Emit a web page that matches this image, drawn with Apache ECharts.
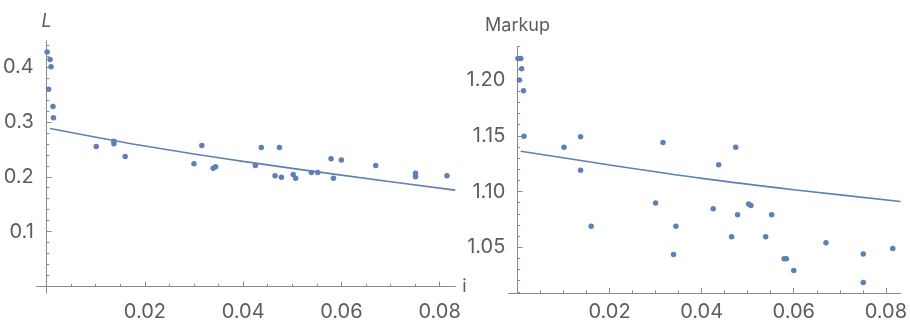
<!DOCTYPE html>
<html>
<head>
<meta charset="utf-8">
<script src="https://cdn.jsdelivr.net/npm/echarts@6/dist/echarts.min.js"></script>
<style>
  html, body { margin: 0; padding: 0; background: #ffffff; }
  #chart { width: 910px; height: 322px; }
</style>
</head>
<body>
<div id="chart"></div>
<script>
// Interest rate i for each observation (shared by both panels)
const rate = [0.0001, 0.0004, 0.0007, 0.0009, 0.0013, 0.0014, 0.0101, 0.0137, 0.0137, 0.0160,
              0.0300, 0.0316, 0.0339, 0.0344, 0.0425, 0.0437, 0.0465, 0.0474, 0.0478, 0.0502,
              0.0507, 0.0539, 0.0552, 0.0579, 0.0584, 0.0600, 0.0670, 0.0751, 0.0751, 0.0815];
// Left panel: L
const laborShare = [0.427, 0.3595, 0.4135, 0.4005, 0.328, 0.3077, 0.2553, 0.2646, 0.2600, 0.2367,
                    0.2239, 0.2571, 0.2157, 0.2181, 0.2204, 0.2531, 0.2017, 0.2531, 0.1990, 0.2042,
                    0.1972, 0.2077, 0.2077, 0.2326, 0.1972, 0.2304, 0.2204, 0.2065, 0.2000, 0.2017];
// Right panel: Markup
const markup = [1.2194, 1.2000, 1.2194, 1.2102, 1.1905, 1.1497, 1.1398, 1.1491, 1.1190, 1.0688,
                1.0896, 1.1440, 1.0434, 1.0688, 1.0845, 1.1241, 1.0595, 1.1398, 1.0791, 1.0887,
                1.0875, 1.0595, 1.0791, 1.0396, 1.0396, 1.0291, 1.0541, 1.0438, 1.0184, 1.0488];
// Fitted curves, read at a few rates
const fitRate = [0.0007, 0.02, 0.04, 0.06, 0.0832];
const fitL = [0.288, 0.256, 0.228, 0.203, 0.1756];
const fitMarkup = [1.1362, 1.1238, 1.1118, 1.1016, 1.0911];

// Tick labels and minor tick positions
const rateTicks = [0.02, 0.04, 0.06, 0.08];
const rateMinor = [0.005, 0.01, 0.015, 0.025, 0.03, 0.035, 0.045, 0.05, 0.055, 0.065, 0.07, 0.075];
const lTicks = [0.1, 0.2, 0.3, 0.4];
const lMinor = [0.02, 0.04, 0.06, 0.08, 0.12, 0.14, 0.16, 0.18, 0.22, 0.24, 0.26, 0.28,
                0.32, 0.34, 0.36, 0.38, 0.42, 0.44];
const markupTicks = [1.05, 1.10, 1.15, 1.20];
const markupMinor = [1.01, 1.02, 1.03, 1.04, 1.06, 1.07, 1.08, 1.09, 1.11, 1.12, 1.13, 1.14,
                     1.16, 1.17, 1.18, 1.19, 1.21, 1.22, 1.23];

const BLUE = '#5E81B5';
const AXIS = '#8a8a8a';
const TEXT = '#5c5c5c';
const FONT = 'Inter, Liberation Sans, Arial, sans-serif';

const pairs = (xs, ys) => xs.map((x, k) => [x, ys[k]]);

function mainAxis(dim, grid, min, max, ticks, fmt, extra) {
  return Object.assign({
    type: 'value', gridIndex: grid, min: min, max: max,
    position: dim === 'x' ? 'bottom' : 'left',
    splitLine: { show: false },
    axisLine: { show: true, onZero: true, lineStyle: { color: AXIS, width: 1 } },
    axisTick: { show: true, inside: true, length: 5, customValues: ticks,
                lineStyle: { color: AXIS, width: 1 } },
    axisLabel: { show: true, customValues: ticks, color: TEXT, fontSize: 20, fontFamily: FONT,
                 margin: dim === 'x' ? 9 : 3, formatter: fmt }
  }, extra || {});
}
function minorAxis(dim, grid, min, max, ticks) {
  return {
    type: 'value', gridIndex: grid, min: min, max: max,
    position: dim === 'x' ? 'bottom' : 'left',
    splitLine: { show: false },
    axisLine: { show: false, onZero: true },
    axisTick: { show: true, inside: true, length: 2.7, customValues: ticks,
                lineStyle: { color: AXIS, width: 1 } },
    axisLabel: { show: false }
  };
}

const X_MIN = -0.002, X_MAX = 0.0832;
const L_MIN = -0.0117, L_MAX = 0.4478;
const M_MIN = 1.0089, M_MAX = 1.2300;

const option = {
  animation: false,
  backgroundColor: '#ffffff',
  grid: [
    { left: 33.1, top: 40.7, width: 422.2, height: 263.3 },
    { left: 508.3, top: 46.7, width: 400.4, height: 247.6 }
  ],
  xAxis: [
    mainAxis('x', 0, X_MIN, X_MAX, rateTicks, v => v.toFixed(2),
      { name: 'i', nameLocation: 'end', nameGap: 7,
        nameTextStyle: { color: TEXT, fontSize: 18, fontFamily: FONT } }),
    minorAxis('x', 0, X_MIN, X_MAX, rateMinor),
    mainAxis('x', 1, X_MIN, X_MAX, rateTicks, v => v.toFixed(2)),
    minorAxis('x', 1, X_MIN, X_MAX, rateMinor)
  ],
  yAxis: [
    mainAxis('y', 0, L_MIN, L_MAX, lTicks, v => v.toFixed(1),
      { name: 'L', nameLocation: 'end', nameGap: 10,
        nameTextStyle: { color: TEXT, fontSize: 18, fontStyle: 'italic', fontFamily: FONT } }),
    minorAxis('y', 0, L_MIN, L_MAX, lMinor),
    mainAxis('y', 1, M_MIN, M_MAX, markupTicks, v => v.toFixed(2),
      { name: 'Markup', nameLocation: 'end', nameGap: 12,
        nameTextStyle: { color: TEXT, fontSize: 18, fontFamily: FONT } }),
    minorAxis('y', 1, M_MIN, M_MAX, markupMinor)
  ],
  series: [
    { type: 'line', xAxisIndex: 0, yAxisIndex: 0, data: pairs(fitRate, fitL), smooth: 0.3,
      showSymbol: false, symbol: 'none', lineStyle: { color: BLUE, width: 1.6 }, z: 2 },
    { type: 'scatter', xAxisIndex: 0, yAxisIndex: 0, data: pairs(rate, laborShare),
      symbolSize: 5.5, itemStyle: { color: BLUE, opacity: 1 }, z: 3 },
    { type: 'line', xAxisIndex: 2, yAxisIndex: 2, data: pairs(fitRate, fitMarkup), smooth: 0.3,
      showSymbol: false, symbol: 'none', lineStyle: { color: BLUE, width: 1.6 }, z: 2 },
    { type: 'scatter', xAxisIndex: 2, yAxisIndex: 2, data: pairs(rate, markup),
      symbolSize: 5.5, itemStyle: { color: BLUE, opacity: 1 }, z: 3 }
  ]
};

const chart = echarts.init(document.getElementById('chart'), null, { renderer: 'canvas' });
chart.setOption(option);
</script>
</body>
</html>
